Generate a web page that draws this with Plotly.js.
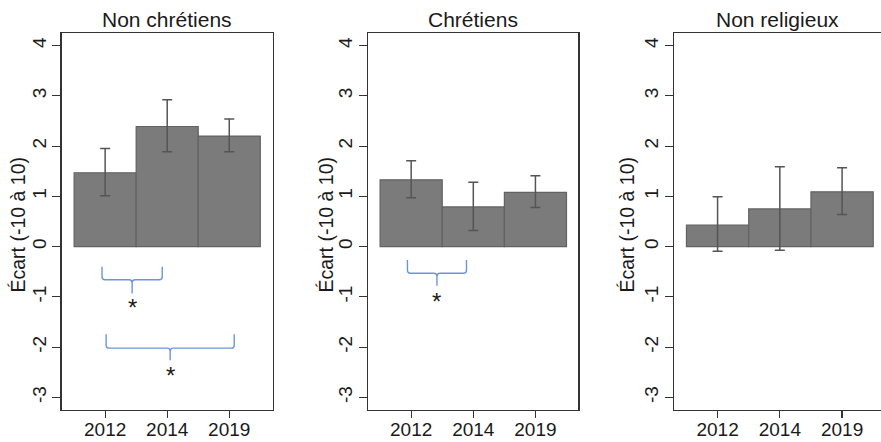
<!DOCTYPE html>
<html>
<head>
<meta charset="utf-8">
<script src="https://cdn.plot.ly/plotly-3.0.1.min.js"></script>
<style>html,body{margin:0;padding:0;background:#fff;}#chart{width:881px;height:442px;}</style>
</head>
<body>
<div id="chart"></div>
<script>
// ---- data ----
var years = ['2012', '2014', '2019'];
var groups = ['Non chrétiens', 'Chrétiens', 'Non religieux'];
var nonChretiens = [1.47, 2.39, 2.20];
var chretiens = [1.33, 0.79, 1.08];
var nonReligieux = [0.43, 0.75, 1.09];
var nonChretiensHigh = [1.95, 2.92, 2.54];
var nonChretiensLow = [1.01, 1.89, 1.89];
var chretiensHigh = [1.71, 1.28, 1.41];
var chretiensLow = [0.97, 0.32, 0.78];
var nonReligieuxHigh = [0.99, 1.59, 1.57];
var nonReligieuxLow = [-0.09, -0.07, 0.64];
var yTicks = [-3, -2, -1, 0, 1, 2, 3, 4];
var yTitle = 'Écart (-10 à 10)';
// significant comparisons: panel index, from year index, to year index
var sigPanel = [0, 0, 1];
var sigFrom = [0, 0, 0];
var sigTo = [1, 2, 1];
var sigLabel = ['*', '*', '*'];

// ---- layout constants ----
var W = 881, H = 442;
var FONT = 'Liberation Sans, Arial, Helvetica, sans-serif';
var xDomains = [[61.7 / W, 272.7 / W], [368.3 / W, 578.3 / W], [674 / W, 1]];
var xRanges = [[-0.7, 2.7], [-0.69, 2.69], [-0.7, 2.625]];
var yDomain = [1 - 410 / H, 1 - 33 / H];
var yRange = [-3.25, 4.25];
var yTitleX = [17.5, 325.5, 626.5];
// bracket geometry (per comparison): x offsets from the tick positions and y levels
var brX0Off = [-0.05, 0.016, -0.06];
var brX1Off = [-0.08, 0.08, -0.11];
var brTop = [-0.40, -1.745, -0.265];
var brH = [-0.66, -2.02, -0.53];
var brTip = [-0.93, -2.26, -0.78];
var brStar = [-1.16, -2.50, -1.03];

var values = [nonChretiens, chretiens, nonReligieux];
var highs = [nonChretiensHigh, chretiensHigh, nonReligieuxHigh];
var lows = [nonChretiensLow, chretiensLow, nonReligieuxLow];
var xIdx = years.map(function (d, i) { return i; });

var traces = [];
var layout = {
  width: W, height: H,
  margin: {l: 0, r: 0, t: 0, b: 0},
  paper_bgcolor: '#fff', plot_bgcolor: '#fff',
  showlegend: false,
  font: {family: FONT, color: '#1a1a1a', size: 19},
  shapes: [], annotations: []
};

groups.forEach(function (g, p) {
  var sx = p === 0 ? '' : String(p + 1);
  var v = values[p];
  traces.push({
    type: 'bar',
    x: xIdx, y: v,
    width: 1,
    xaxis: 'x' + sx, yaxis: 'y' + sx,
    marker: {color: '#7b7b7b', line: {color: '#626262', width: 1.2}},
    error_y: {
      type: 'data', symmetric: false,
      array: highs[p].map(function (h, i) { return h - v[i]; }),
      arrayminus: lows[p].map(function (l, i) { return v[i] - l; }),
      color: '#555555', thickness: 1.5, width: 5
    },
    hoverinfo: 'none'
  });
  layout['xaxis' + sx] = {
    domain: xDomains[p], range: xRanges[p], anchor: 'y' + sx,
    tickmode: 'array', tickvals: xIdx, ticktext: years,
    ticks: 'outside', ticklen: 7, tickwidth: 1.2, tickcolor: '#333',
    ticklabelstandoff: -5,
    showline: true, linecolor: '#333', linewidth: 1.3, mirror: true,
    showgrid: false, zeroline: false, fixedrange: true,
    tickfont: {family: FONT, size: 19, color: '#1a1a1a'}
  };
  layout['yaxis' + sx] = {
    domain: yDomain, range: yRange, anchor: 'x' + sx,
    tickmode: 'array', tickvals: yTicks, ticktext: yTicks.map(String),
    tickangle: -90,
    ticks: 'outside', ticklen: 8, tickwidth: 1.2, tickcolor: '#333',
    ticklabelstandoff: -1,
    showline: true, linecolor: '#333', linewidth: 1.3, mirror: true,
    showgrid: false, zeroline: false, fixedrange: true,
    tickfont: {family: FONT, size: 19, color: '#1a1a1a'}
  };
  layout.annotations.push({
    text: g, xref: 'paper', yref: 'paper',
    x: (xDomains[p][0] + xDomains[p][1]) / 2, y: 1 - 20 / H,
    xanchor: 'center', yanchor: 'middle', showarrow: false,
    font: {family: FONT, size: 21, color: '#1a1a1a'}
  });
  layout.annotations.push({
    text: yTitle, xref: 'paper', yref: 'paper',
    x: yTitleX[p] / W, y: 1 - 225 / H, textangle: -90,
    xanchor: 'center', yanchor: 'middle', showarrow: false,
    font: {family: FONT, size: 19.5, color: '#1a1a1a'}
  });
});

// significance braces
var rx = 0.05, ry = 0.06;
sigPanel.forEach(function (p, k) {
  var sx = p === 0 ? '' : String(p + 1);
  var x0 = sigFrom[k] + brX0Off[k], x1 = sigTo[k] + brX1Off[k];
  var c = (x0 + x1) / 2, yt = brTop[k], yh = brH[k], yp = brTip[k];
  var path =
    'M' + x0 + ',' + yt + ' L' + x0 + ',' + (yh + ry) +
    ' Q' + x0 + ',' + yh + ' ' + (x0 + rx) + ',' + yh +
    ' L' + (c - rx) + ',' + yh +
    ' Q' + c + ',' + yh + ' ' + c + ',' + (yh - ry) +
    ' L' + c + ',' + yp +
    ' M' + x1 + ',' + yt + ' L' + x1 + ',' + (yh + ry) +
    ' Q' + x1 + ',' + yh + ' ' + (x1 - rx) + ',' + yh +
    ' L' + (c + rx) + ',' + yh +
    ' Q' + c + ',' + yh + ' ' + c + ',' + (yh - ry);
  layout.shapes.push({
    type: 'path', path: path, xref: 'x' + sx, yref: 'y' + sx,
    line: {color: '#6a95dd', width: 1.4}
  });
  layout.annotations.push({
    text: sigLabel[k], xref: 'x' + sx, yref: 'y' + sx,
    x: c, y: brStar[k], xanchor: 'center', yanchor: 'middle',
    yshift: -3, showarrow: false,
    font: {family: FONT, size: 24, color: '#1a1a1a'}
  });
});

Plotly.newPlot('chart', traces, layout, {staticPlot: true, displayModeBar: false});
</script>
</body>
</html>
